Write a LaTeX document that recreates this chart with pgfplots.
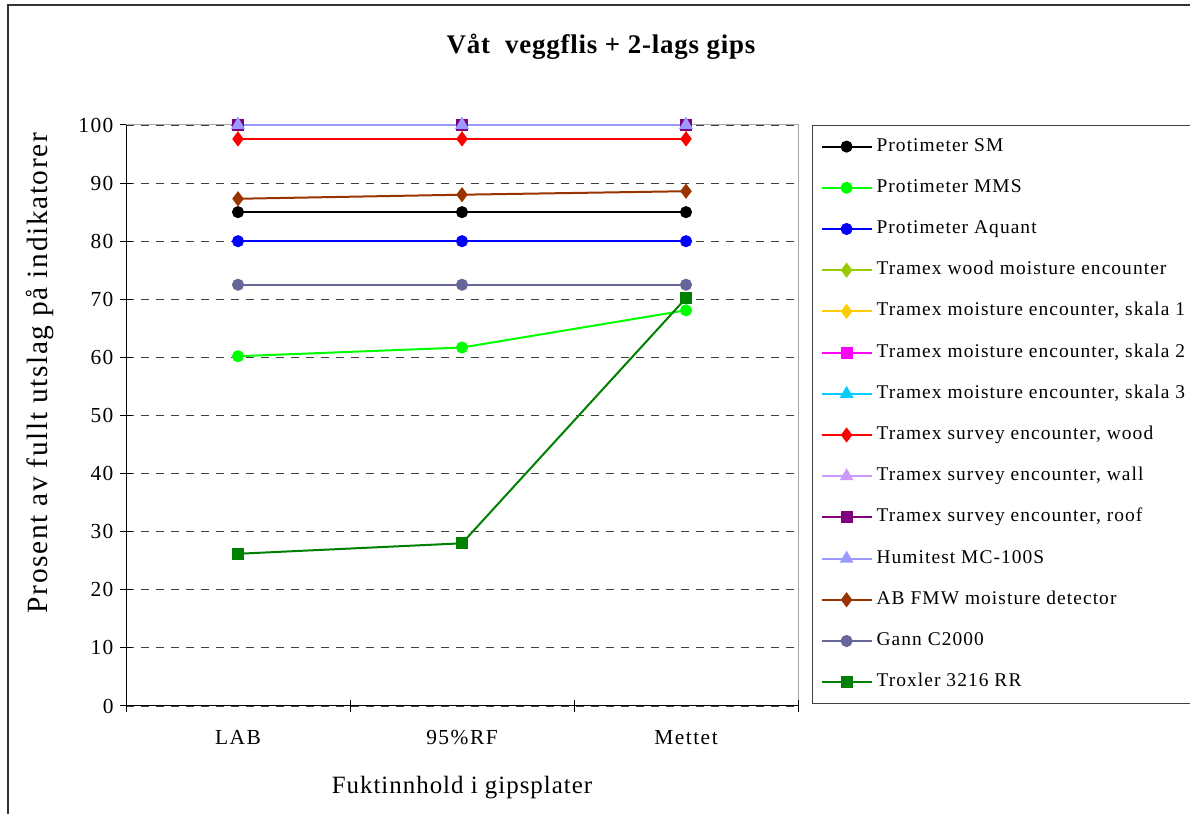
\documentclass[border=0pt]{standalone}
\usepackage{fontspec}
\setmainfont{Liberation Serif}
\usepackage{pgfplots}
\pgfplotsset{compat=1.18}

% Excel-like palette
\definecolor{cSM}{RGB}{0,0,0}
\definecolor{cMMS}{RGB}{0,255,0}
\definecolor{cAquant}{RGB}{0,0,255}
\definecolor{cWood}{RGB}{153,204,0}
\definecolor{cSk1}{RGB}{255,204,0}
\definecolor{cSk2}{RGB}{255,0,255}
\definecolor{cSk3}{RGB}{0,204,255}
\definecolor{cSWood}{RGB}{255,0,0}
\definecolor{cSWall}{RGB}{204,153,255}
\definecolor{cSRoof}{RGB}{128,0,128}
\definecolor{cHumi}{RGB}{153,153,255}
\definecolor{cAB}{RGB}{153,51,0}
\definecolor{cGann}{RGB}{102,102,153}
\definecolor{cTrox}{RGB}{0,128,0}

\newcommand\spaced[1]{\addfontfeatures{LetterSpace=#1}}

\begin{document}
\begin{tikzpicture}[x=1bp,y=1bp]
\path[use as bounding box] (0,0) rectangle (1190,814);
\draw[line width=1.5bp,black!80] (8,-5) -- (8,809) -- (1200,809);
\node[font=\fontsize{27}{31}\selectfont\bfseries\spaced{3}] at (601,767) {Våt\ \ veggflis + 2-lags gips};
\begin{axis}[
  at={(126bp,108bp)}, anchor=south west,
  scale only axis, width=672bp, height=581bp,
  xmin=-0.5, xmax=2.5, ymin=0, ymax=100,
  xtick={0,1,2}, xticklabels={LAB,95\%RF,Mettet},
  ytick={0,10,...,100},
  tick pos=left, tick align=center,
  x tick style={draw=none},
  major tick length=12bp,
  extra x ticks={-0.5,0.5,1.5,2.5}, extra x tick labels={},
  extra x tick style={x tick style={draw=black,line width=1bp}},
  y tick style={black,line width=1bp},
  ymajorgrids,
  grid style={black!75,dash pattern=on 8bp off 7bp,line width=0.9bp},
  axis line style={gray!70,line width=1bp},
  /pgf/number format/assume math mode=true,
  ticklabel style={font=\fontsize{21.5}{25}\selectfont\spaced{7}},
  yticklabel style={xshift=-3bp},
  xticklabel style={yshift=-15bp},
  xlabel={Fuktinnhold i gipsplater},
  ylabel={Prosent av fullt utslag på indikatorer},
  xlabel style={font=\fontsize{25}{29}\selectfont\spaced{4},
    at={(axis description cs:0.5,-0.14)},anchor=center},
  ylabel style={font=\fontsize{29.5}{33}\selectfont\spaced{5.5},
    at={(axis description cs:-0.128,0.573)},anchor=center,rotate=0},
  legend cell align=left,
  legend image code/.code={\draw[mark repeat=2,mark phase=2] plot coordinates {(0bp,0bp) (25bp,0bp) (50bp,0bp)};},
  legend style={at={(rel axis cs:1.0208,1)}, anchor=north west,
    draw=black!75, line width=1.2bp,
    inner xsep=8bp, inner ysep=12.5bp, row sep=24.2bp, column sep=4bp,
    font=\fontsize{19.5}{23}\selectfont\spaced{5.5},
    nodes={inner sep=0pt, text height=13bp, text depth=4bp, anchor=west}},
  every axis plot/.append style={line width=2bp, mark options={solid}},
]
\addplot[cSM, mark=*, mark size=5bp] coordinates {(0,85) (1,85) (2,85)};
\addlegendentry{Protimeter SM}
\addplot[cMMS, mark=*, mark size=5bp] coordinates {(0,60.2) (1,61.7) (2,68.1)};
\addlegendentry{Protimeter MMS}
\addplot[cAquant, mark=*, mark size=5bp] coordinates {(0,80) (1,80) (2,80)};
\addlegendentry{Protimeter Aquant}
\addplot[cWood, mark=diamond*, mark size=6bp] coordinates {(0,100) (1,100) (2,100)};
\addlegendentry{Tramex wood moisture encounter}
\addplot[cSk1, mark=diamond*, mark size=6bp] coordinates {(0,100) (1,100) (2,100)};
\addlegendentry{Tramex moisture encounter, skala 1}
\addplot[cSk2, mark=square*, mark size=5bp] coordinates {(0,100) (1,100) (2,100)};
\addlegendentry{Tramex moisture encounter, skala 2}
\addplot[cSk3, mark=triangle*, mark size=6bp] coordinates {(0,100) (1,100) (2,100)};
\addlegendentry{Tramex moisture encounter, skala 3}
\addplot[cSWood, mark=diamond*, mark size=6bp] coordinates {(0,97.6) (1,97.6) (2,97.6)};
\addlegendentry{Tramex survey encounter, wood}
\addplot[cSWall, mark=triangle*, mark size=6bp] coordinates {(0,100) (1,100) (2,100)};
\addlegendentry{Tramex survey encounter, wall}
\addplot[cSRoof, mark=square*, mark size=5bp] coordinates {(0,100) (1,100) (2,100)};
\addlegendentry{Tramex survey encounter, roof}
\addplot[cHumi, mark=triangle*, mark size=6bp] coordinates {(0,100) (1,100) (2,100)};
\addlegendentry{Humitest MC-100S}
\addplot[cAB, mark=diamond*, mark size=6bp] coordinates {(0,87.3) (1,88.0) (2,88.6)};
\addlegendentry{AB FMW moisture detector}
\addplot[cGann, mark=*, mark size=5bp] coordinates {(0,72.5) (1,72.5) (2,72.5)};
\addlegendentry{Gann C2000}
\addplot[cTrox, mark=square*, mark size=5bp] coordinates {(0,26.2) (1,28.0) (2,70.2)};
\addlegendentry{Troxler 3216 RR}
\draw[black,line width=1bp] (rel axis cs:0,1) -- (rel axis cs:0,0) -- (rel axis cs:1,0);
\end{axis}
\end{tikzpicture}
\end{document}
